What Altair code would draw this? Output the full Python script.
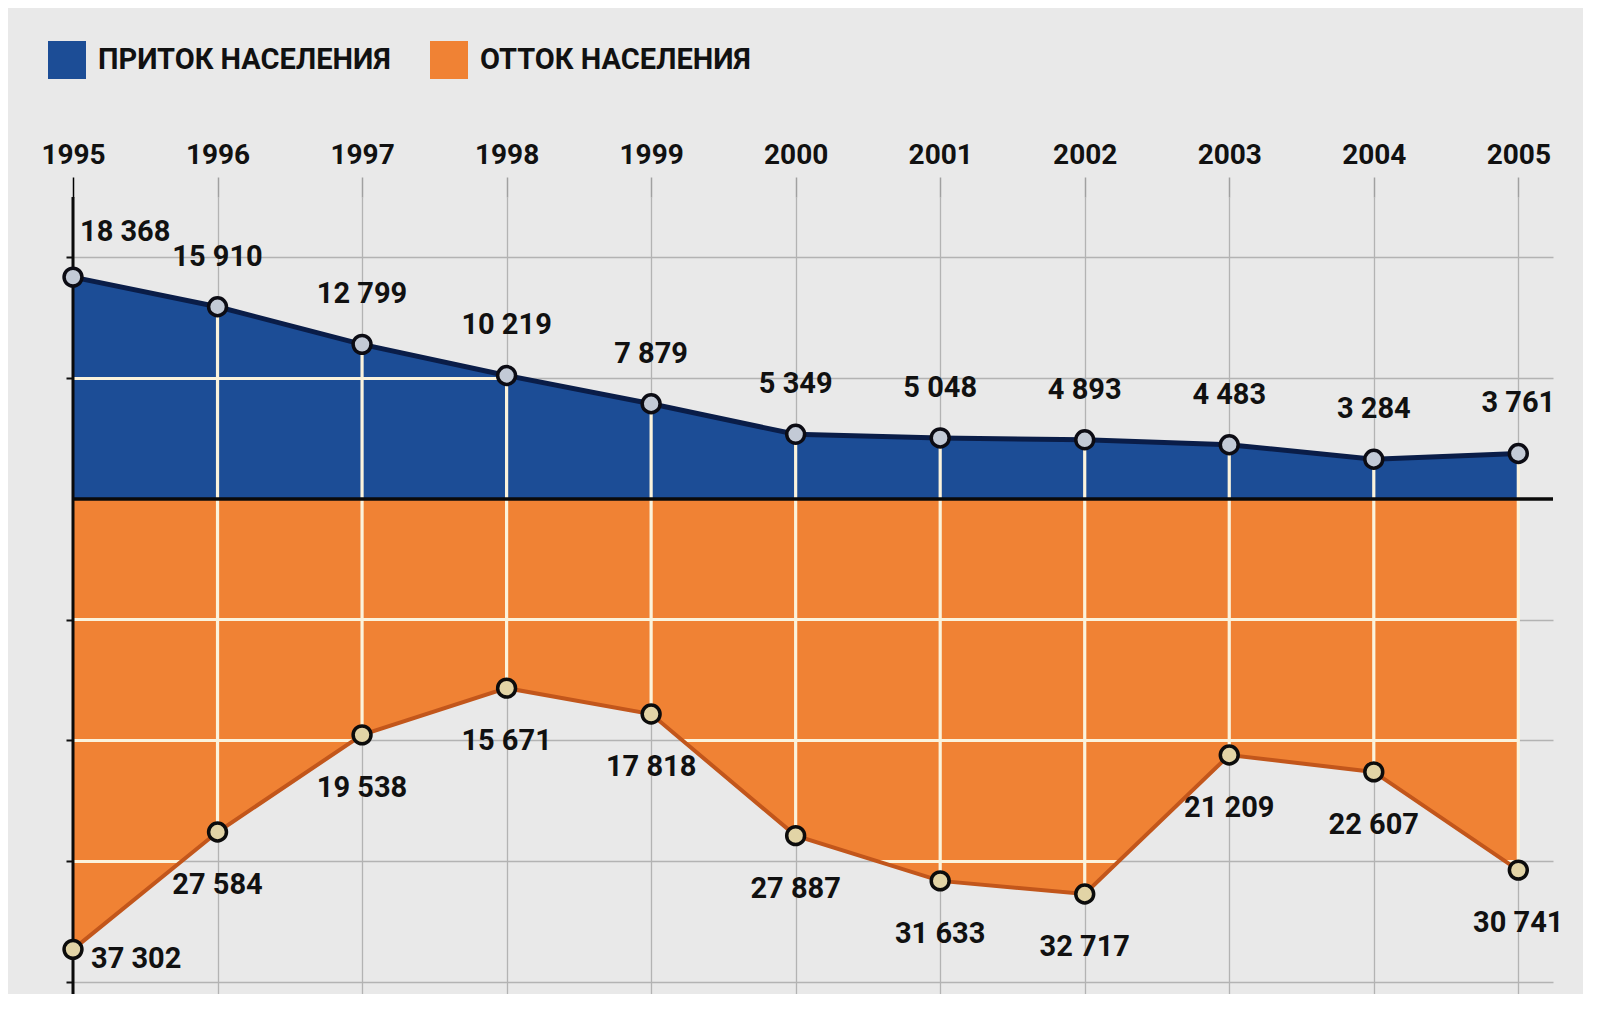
import altair as alt
import pandas as pd

years = [1995, 1996, 1997, 1998, 1999, 2000, 2001, 2002, 2003, 2004, 2005]
inflow = [18368, 15910, 12799, 10219, 7879, 5349, 5048, 4893, 4483, 3284, 3761]
outflow = [37302, 27584, 19538, 15671, 17818, 27887, 31633, 32717, 21209, 22607, 30741]
series_names = ["ПРИТОК НАСЕЛЕНИЯ", "ОТТОК НАСЕЛЕНИЯ"]
grid_levels = [-40000, -30000, -20000, -10000, 10000, 20000]

BLUE = "#1c4d96"
BLUE_EDGE = "#0a1d48"
ORANGE = "#f08234"
ORANGE_EDGE = "#c2561b"
STRIPE = "#fbf3dc"
BG = "#e9e9e9"
FONT = "Roboto, Liberation Sans, sans-serif"

W, H = 1480, 797
XMIN, XMAX = 1995, 2005.24
YMIN, YMAX = -41000, 25000
px_per_unit = H / (YMAX - YMIN)


def fmt(v):
    return f"{v:,}".replace(",", " ")


df = pd.DataFrame({
    "year": years,
    "inflow": inflow,
    "outneg": [-v for v in outflow],
    "in_label": [fmt(v) for v in inflow],
    "out_label": [fmt(v) for v in outflow],
})


def striped(base, top_val, bottom_val, levels, half_px=1.6):
    span = top_val - bottom_val
    half = half_px / (span * px_per_unit)
    stops = [alt.GradientStop(offset=0, color=base)]
    for g in sorted(levels, reverse=True):
        if bottom_val < g < top_val:
            f = (top_val - g) / span
            stops += [
                alt.GradientStop(offset=f - half, color=base),
                alt.GradientStop(offset=f - half, color=STRIPE),
                alt.GradientStop(offset=f + half, color=STRIPE),
                alt.GradientStop(offset=f + half, color=base),
            ]
    stops.append(alt.GradientStop(offset=1, color=base))
    return alt.Gradient(gradient="linear", stops=stops, x1=0, x2=0, y1=0, y2=1)


xscale = alt.Scale(domain=[XMIN, XMAX], nice=False, zero=False)
yscale = alt.Scale(domain=[YMIN, YMAX], nice=False, zero=False)

x_axis = alt.Axis(
    orient="top", values=years, format="d", title=None,
    labelFont=FONT, labelFontSize=28, labelFontWeight="bold", labelColor="#111",
    labelPadding=8, labelFlush=False, tickSize=20, tickWidth=1.5,
    tickColor={"condition": {"test": "datum.value == 1995", "value": "#000"}, "value": "#a0a0a0"},
    domain=False, grid=True, gridColor="#b3b3b3", gridWidth=1.3,
)
y_axis = alt.Axis(
    values=grid_levels, labels=False, title=None, domain=False,
    tickSize=7, tickColor="#111", tickWidth=2,
    grid=True, gridColor="#b3b3b3", gridWidth=1.6,
)

base = alt.Chart(df)

legend_layer = alt.Chart(pd.DataFrame({"series": series_names})).mark_square(size=10, opacity=0).encode(
    x=alt.datum(1995, scale=xscale, axis=x_axis),
    y=alt.datum(0, scale=yscale, axis=y_axis),
    color=alt.Color(
        "series:N",
        scale=alt.Scale(domain=series_names, range=[BLUE, ORANGE]),
        legend=alt.Legend(
            title=None, orient="none", direction="horizontal",
            legendX=-25, legendY=-156, padding=0,
            symbolType="square", symbolSize=1444, symbolOpacity=1, symbolStrokeWidth=0,
            labelFont=FONT, labelFontSize=29, labelFontWeight="bold", labelColor="#111",
            labelOffset=12, columnPadding=39, labelLimit=600,
        ),
    ),
)

blue_area = base.mark_area(fill=striped(BLUE, max(inflow), 0, grid_levels)).encode(
    x=alt.X("year:Q", scale=xscale, axis=x_axis),
    y=alt.Y("inflow:Q", scale=yscale, axis=y_axis),
    y2=alt.datum(0),
)
orange_area = base.mark_area(fill=striped(ORANGE, 0, -max(outflow), grid_levels)).encode(
    x=alt.X("year:Q", scale=xscale),
    y=alt.Y("outneg:Q", scale=yscale),
    y2=alt.datum(0),
)
blue_edge = base.mark_line(color=BLUE_EDGE, strokeWidth=5).encode(
    x=alt.X("year:Q", scale=xscale), y=alt.Y("inflow:Q", scale=yscale)
)
orange_edge = base.mark_line(color=ORANGE_EDGE, strokeWidth=4).encode(
    x=alt.X("year:Q", scale=xscale), y=alt.Y("outneg:Q", scale=yscale)
)
white_rules = base.transform_filter("datum.year > 1995").mark_rule(color=STRIPE, strokeWidth=3.2).encode(
    x=alt.X("year:Q", scale=xscale), y=alt.Y("inflow:Q", scale=yscale), y2="outneg:Q"
)
zero_rule = alt.Chart(pd.DataFrame({"v": [0]})).mark_rule(color="#0a0a0a", strokeWidth=3.5).encode(
    y=alt.Y("v:Q", scale=yscale)
)
first_rule = alt.Chart(pd.DataFrame({"yr": [years[0]]})).mark_rule(color="#0a0a0a", strokeWidth=3).encode(
    x=alt.X("yr:Q", scale=xscale)
)
in_points = base.mark_circle(size=320, fill="#c3cad6", stroke="#0c0c14", strokeWidth=3.5, opacity=1).encode(
    x=alt.X("year:Q", scale=xscale), y=alt.Y("inflow:Q", scale=yscale)
)
out_points = base.mark_circle(size=320, fill="#e2d4a6", stroke="#0c0c0c", strokeWidth=3.5, opacity=1).encode(
    x=alt.X("year:Q", scale=xscale), y=alt.Y("outneg:Q", scale=yscale)
)

txt = dict(font=FONT, fontSize=29, fontWeight="bold", color="#111", baseline="middle")
in_labels = base.transform_filter("datum.year > 1995").mark_text(dy=-50, **txt).encode(
    x=alt.X("year:Q", scale=xscale), y=alt.Y("inflow:Q", scale=yscale), text="in_label:N"
)
in_label_first = base.transform_filter("datum.year == 1995").mark_text(dy=-45, dx=7, align="left", **txt).encode(
    x=alt.X("year:Q", scale=xscale), y=alt.Y("inflow:Q", scale=yscale), text="in_label:N"
)
out_labels = base.transform_filter("datum.year > 1995").mark_text(dy=53, **txt).encode(
    x=alt.X("year:Q", scale=xscale), y=alt.Y("outneg:Q", scale=yscale), text="out_label:N"
)
out_label_first = base.transform_filter("datum.year == 1995").mark_text(dy=10, dx=18, align="left", **txt).encode(
    x=alt.X("year:Q", scale=xscale), y=alt.Y("outneg:Q", scale=yscale), text="out_label:N"
)

chart = alt.layer(
    legend_layer, blue_area, orange_area, blue_edge, orange_edge, white_rules,
    zero_rule, first_rule, in_points, out_points,
    in_labels, in_label_first, out_labels, out_label_first,
).properties(
    width=W, height=H,
    padding={"left": 65, "top": 189, "right": 30, "bottom": 0},
    autosize=alt.AutoSizeParams(type="none"),
    background=BG,
).configure_view(stroke=None)

chart.save("out.html", embed_options={"renderer": "svg", "actions": False})
